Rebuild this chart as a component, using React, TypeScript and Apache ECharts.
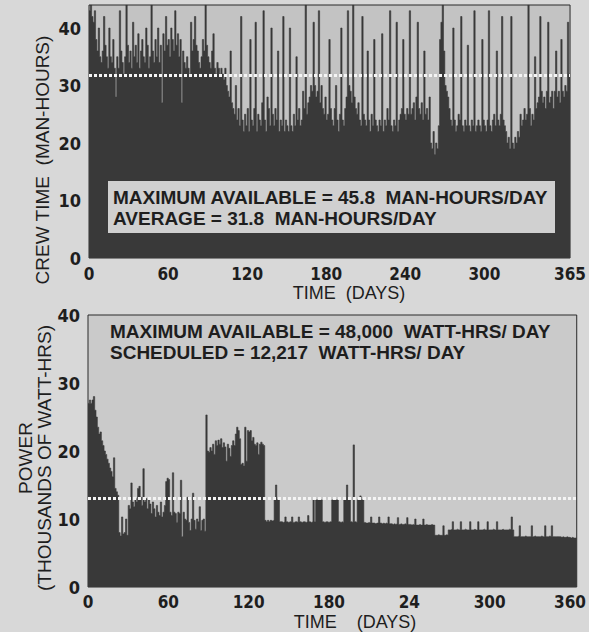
import React, { useEffect, useRef } from "react";
import * as echarts from "echarts";

// Daily crew time (man-hours), days 0..364
const crewTime = [
  43, 44, 42, 41, 43, 38, 36, 40, 35, 34,
  36, 42, 37, 35, 33, 40, 35, 34, 38, 33,
  28, 35, 33, 43, 36, 34, 32, 35, 44, 37,
  34, 36, 33, 41, 35, 37, 34, 39, 33, 36,
  38, 35, 34, 40, 37, 33, 35, 44, 36, 34,
  38, 35, 40, 34, 37, 27, 39, 36, 42, 37,
  38, 35, 40, 38, 36, 43, 37, 39, 35, 38,
  27, 36, 34, 33, 35, 33, 32, 41, 36, 38,
  42, 37, 36, 34, 33, 35, 38, 36, 44, 37,
  35, 34, 33, 36, 39, 33, 32, 34, 33, 32,
  33, 32, 31, 33, 30, 29, 28, 36, 27, 26,
  25, 30, 24, 26, 23, 42, 24, 22, 25, 23,
  26, 22, 38, 24, 23, 26, 41, 22, 25, 24,
  23, 27, 43, 24, 22, 28, 26, 23, 40, 25,
  23, 26, 24, 36, 22, 24, 23, 42, 22, 24,
  23, 22, 40, 23, 22, 25, 23, 35, 24, 26,
  23, 24, 29, 26, 44, 25, 27, 28, 30, 29,
  41, 30, 28, 29, 43, 27, 30, 26, 25, 28,
  24, 25, 38, 26, 24, 23, 26, 30, 24, 22,
  25, 40, 24, 23, 26, 28, 43, 30, 29, 27,
  44, 28, 26, 25, 27, 24, 23, 42, 25, 24,
  23, 36, 24, 22, 25, 23, 38, 24, 23, 22,
  24, 23, 39, 22, 24, 23, 26, 24, 43, 23,
  22, 24, 23, 41, 22, 24, 25, 26, 38, 25,
  24, 26, 25, 43, 25, 26, 27, 24, 28, 41,
  26, 25, 27, 24, 36, 25, 26, 24, 28, 20,
  19, 22, 18, 20, 19, 23, 38, 41, 44, 36,
  30, 29, 28, 26, 24, 23, 40, 24, 22, 23,
  25, 24, 42, 23, 22, 24, 23, 37, 23, 22,
  24, 23, 43, 22, 23, 24, 23, 22, 38, 24,
  23, 22, 24, 43, 23, 22, 24, 25, 23, 36,
  24, 23, 25, 42, 24, 23, 22, 20, 21, 19,
  42, 20, 19, 21, 20, 22, 21, 25, 23, 24,
  26, 24, 25, 44, 26, 23, 25, 24, 35, 26,
  27, 28, 42, 29, 27, 28, 26, 29, 41, 27,
  28, 29, 26, 29, 36, 28, 29, 27, 38, 29,
  28, 30, 29, 41, 32,
];

// Daily power (thousands of watt-hrs), days 0..364
const power = [
  27, 27.5, 27, 27.5, 28, 26, 25, 23.5, 22.5, 22.8,
  21.5, 20.8, 20, 19.5, 18.8, 18.2, 17.5, 17, 16.2, 19,
  14.5, 14, 13.5, 8, 7.5, 10.3, 7.8, 8, 10, 7.6,
  12, 11.5, 15.3, 12.5, 11.8, 13, 12.5, 14.5, 14.8, 13.2,
  12, 17.4, 12.5, 13, 11.5, 12.8, 12.2, 10.8, 12.5, 11.5,
  10.3, 12, 11, 10.5, 12.5, 10.3, 11, 12, 15.5, 16,
  15.8, 11, 10.5, 16.8, 11, 10.8, 9.5, 11, 10.8, 15.7,
  7.4, 11, 10, 9.8, 13.2, 9.5, 8.3, 10, 13.8, 9.8,
  8.5, 10, 9.6, 11.8, 8.3, 9.8, 10, 8.2, 25.3, 20,
  19.8, 20.5, 20, 21, 19.5, 21.5, 20.8, 21.6, 21, 21.8,
  20.5, 21.2, 20.6, 18.5, 21, 20.4, 19.2, 20.8, 21.5, 20.8,
  22.5, 23.5, 23, 21.8, 18, 18.2, 17.8, 23.5, 18.5, 23,
  22.8, 23, 21.5, 22, 21, 20.8, 21.2, 19.5, 21, 21.3,
  21, 20.8, 9.8, 9.6, 9.8, 9.6, 9.8, 9.7, 9.8, 12.8,
  15, 12.8, 12.8, 9.6, 9.6, 9.5, 9.6, 10.3, 9.6, 9.5,
  9.6, 9.6, 10.3, 9.5, 9.6, 9.6, 9.5, 10.3, 9.6, 9.5,
  9.6, 9.6, 9.5, 9.6, 10.5, 9.6, 9.5, 9.6, 12.8, 9.6,
  12.8, 12.8, 12.8, 12.8, 12.8, 9.6, 9.5, 9.6, 9.6, 9.5,
  9.6, 9.6, 12.8, 12.8, 12.8, 12.8, 12.8, 9.6, 9.5, 9.6,
  9.5, 12.8, 12.8, 15, 12.8, 12.8, 9.6, 9.5, 20.9, 9.6,
  9.5, 12.8, 12.8, 13.4, 12.8, 12.8, 9.5, 9.4, 9.4, 9.5,
  9.4, 10.3, 9.4, 9.4, 9.3, 9.4, 9.4, 10.3, 9.4, 9.3,
  9.4, 9.3, 9.4, 9.3, 10.3, 9.3, 9.3, 9.2, 9.3, 9.2,
  9.3, 10.2, 9.2, 9.3, 9.2, 9.2, 9.3, 9.2, 10.2, 9.2,
  9.2, 9.1, 9.2, 9.1, 10, 9.1, 9.1, 9.2, 9.1, 9.1,
  10, 9.1, 9.2, 9.1, 9.1, 9.1, 9.2, 9.1, 9.1, 7.6,
  7.6, 7.7, 7.6, 7.6, 7.6, 9, 7.6, 7.7, 7.6, 8.4,
  8.4, 8.5, 9.6, 8.4, 8.4, 8.5, 8.4, 8.4, 9.6, 8.4,
  8.4, 8.5, 8.4, 8.4, 8.4, 9.6, 8.4, 8.4, 8.5, 8.4,
  8.4, 9.6, 8.4, 8.4, 8.4, 8.5, 8.4, 8.4, 9.6, 8.4,
  8.4, 8.4, 8.5, 8.4, 8.4, 9.6, 8.4, 8.4, 8.4, 8.5,
  8.4, 8.4, 8.4, 8.4, 8.5, 8.4, 10.3, 8.4, 7.4, 7.4,
  7.4, 7.5, 9, 7.4, 7.4, 7.4, 7.5, 7.4, 7.4, 7.4,
  7.4, 9, 7.4, 7.5, 7.4, 7.4, 7.4, 7.4, 7.5, 7.4,
  7.4, 9, 7.4, 7.4, 7.5, 7.4, 9, 7.4, 7.4, 7.4,
  7.4, 7.4, 7.4, 7.3, 7.4, 7.3, 7.3, 7.4, 7.3, 7.3,
  7.2, 7.3, 7.2, 7.2, 7.2,
];

const crewAverage = 31.8;
const powerScheduled = 13;

const topTickDays = [0, 60, 120, 180, 240, 300, 365];
const topTickLabels = ["0", "60", "120", "180", "240", "300", "365"];
const bottomTickDays = [0, 60, 120, 180, 240, 300, 360];
const bottomTickLabels = ["0", "60", "120", "180", "24", "300", "360"];

const crewNote = [
  "MAXIMUM AVAILABLE = 45.8  MAN-HOURS/DAY",
  "AVERAGE = 31.8  MAN-HOURS/DAY",
];
const powerNote = [
  "MAXIMUM AVAILABLE = 48,000  WATT-HRS/ DAY",
  "SCHEDULED = 12,217  WATT-HRS/ DAY",
];

const DARK = "#393939";
const INK = "#1e1e1e";
const TICK_FONT = "'Liberation Sans Narrow', 'DejaVu Sans Condensed', sans-serif";
const TEXT_FONT = "'Liberation Sans', Arial, sans-serif";

function toSteps(vals: number[]) {
  const pts: number[][] = vals.map((v, i) => [i, v]);
  pts.push([vals.length, vals[vals.length - 1]]);
  return pts;
}

export default function App() {
  const ref = useRef<HTMLDivElement>(null);

  useEffect(() => {
    if (!ref.current) return;
    const chart = echarts.init(ref.current, undefined, { renderer: "svg" });

    const xAxisBase = (days: number[], labels: string[], margin: number) => ({
      type: "value",
      min: 0,
      max: 365,
      axisLine: { show: false },
      axisTick: { show: false },
      splitLine: { show: false },
      axisLabel: {
        customValues: days,
        formatter: (v: number) => {
          const i = days.indexOf(v);
          return i >= 0 ? labels[i] : "";
        },
        color: INK,
        fontFamily: TICK_FONT,
        fontWeight: "bold",
        fontSize: 17,
        margin,
      },
    });

    const yAxisBase = (max: number) => ({
      type: "value",
      min: 0,
      max,
      interval: 10,
      axisLine: { show: false },
      axisTick: { show: false },
      splitLine: { show: false },
      axisLabel: {
        color: INK,
        fontFamily: TICK_FONT,
        fontWeight: "bold",
        fontSize: 18,
        margin: 8,
        showMaxLabel: max % 10 === 0,
      },
    });

    const refLine = (value: number) => ({
      silent: true,
      symbol: ["none", "none"],
      label: { show: false },
      lineStyle: { color: "#f4f4f4", type: [3, 2], width: 3, opacity: 1 },
      data: [{ yAxis: value }],
    });

    const textStyle = (t: string, size: number, weight: string) => ({
      text: t,
      fill: INK,
      fontFamily: TEXT_FONT,
      fontSize: size,
      fontWeight: weight,
    });

    chart.setOption({
      animation: false,
      backgroundColor: "#d8d8d8",
      grid: [
        {
          left: 89,
          right: 6,
          top: 5,
          height: 253,
          show: true,
          backgroundColor: "#c3c3c3",
          borderColor: "#2a2a2a",
          borderWidth: 1,
        },
        {
          left: 88,
          right: 6,
          top: 315,
          height: 272,
          show: true,
          backgroundColor: "#cacaca",
          borderColor: "#2a2a2a",
          borderWidth: 1,
        },
      ],
      xAxis: [
        { ...xAxisBase(topTickDays, topTickLabels, 7), gridIndex: 0 },
        { ...xAxisBase(bottomTickDays, bottomTickLabels, 6), gridIndex: 1 },
      ],
      yAxis: [
        { ...yAxisBase(44), gridIndex: 0 },
        { ...yAxisBase(40), gridIndex: 1 },
      ],
      series: [
        {
          type: "line",
          xAxisIndex: 0,
          yAxisIndex: 0,
          step: "end",
          symbol: "none",
          data: toSteps(crewTime),
          lineStyle: { width: 0.6, color: DARK },
          areaStyle: { color: DARK, opacity: 1 },
          markLine: refLine(crewAverage),
        },
        {
          type: "line",
          xAxisIndex: 1,
          yAxisIndex: 1,
          step: "end",
          symbol: "none",
          data: toSteps(power),
          lineStyle: { width: 0.6, color: DARK },
          areaStyle: { color: DARK, opacity: 1 },
          markLine: refLine(powerScheduled),
        },
      ],
      graphic: [
        {
          type: "rect",
          z: 100,
          shape: { x: 108, y: 181, width: 447, height: 52 },
          style: { fill: "#d0d0d0" },
        },
        {
          type: "text",
          z: 101,
          x: 113,
          y: 197,
          style: { ...textStyle(crewNote[0], 19, "bold"), verticalAlign: "middle" },
        },
        {
          type: "text",
          z: 101,
          x: 113,
          y: 218,
          style: { ...textStyle(crewNote[1], 19, "bold"), verticalAlign: "middle" },
        },
        {
          type: "text",
          z: 101,
          x: 110,
          y: 331,
          style: { ...textStyle(powerNote[0], 19, "bold"), verticalAlign: "middle" },
        },
        {
          type: "text",
          z: 101,
          x: 110,
          y: 352,
          style: { ...textStyle(powerNote[1], 19, "bold"), verticalAlign: "middle" },
        },
        {
          type: "text",
          z: 101,
          x: 42,
          y: 160,
          rotation: Math.PI / 2,
          style: { ...textStyle("CREW TIME  (MAN-HOURS)", 19, "normal"), align: "center", verticalAlign: "middle" },
        },
        {
          type: "text",
          z: 101,
          x: 25,
          y: 458,
          rotation: Math.PI / 2,
          style: { ...textStyle("POWER", 19, "normal"), align: "center", verticalAlign: "middle" },
        },
        {
          type: "text",
          z: 101,
          x: 44,
          y: 458,
          rotation: Math.PI / 2,
          style: { ...textStyle("(THOUSANDS OF WATT-HRS)", 19, "normal"), align: "center", verticalAlign: "middle" },
        },
        {
          type: "text",
          z: 101,
          x: 349,
          y: 293,
          style: { ...textStyle("TIME  (DAYS)", 18, "normal"), align: "center", verticalAlign: "middle" },
        },
        {
          type: "text",
          z: 101,
          x: 355,
          y: 622,
          style: { ...textStyle("TIME    (DAYS)", 18, "normal"), align: "center", verticalAlign: "middle" },
        },
      ],
    });

    return () => chart.dispose();
  }, []);

  return (
    <div
      ref={ref}
      style={{ position: "fixed", left: 0, top: 0, width: 589, height: 632 }}
    />
  );
}
